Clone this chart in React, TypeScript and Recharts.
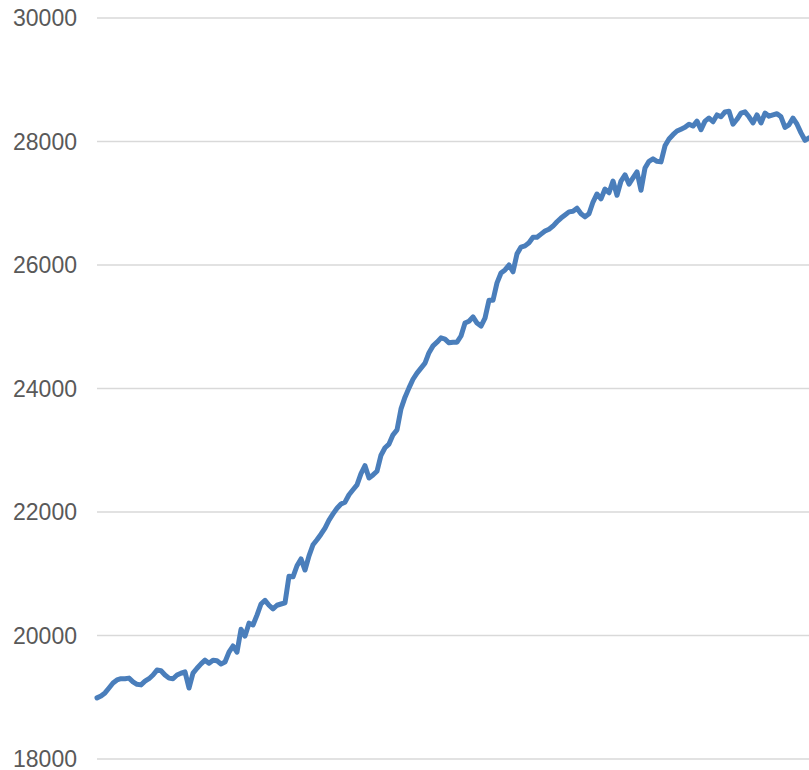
import React from "react";
import { LineChart, Line, XAxis, YAxis, CartesianGrid } from "recharts";

const yTicks = [18000, 20000, 22000, 24000, 26000, 28000, 30000];

const values: number[] = [
  18990, 19020, 19070, 19150, 19230, 19280, 19300, 19300, 19310, 19250,
  19210, 19200, 19260, 19300, 19360, 19440, 19430, 19360, 19310, 19300,
  19360, 19390, 19410, 19150, 19390, 19470, 19540, 19600, 19550, 19600,
  19590, 19540, 19570, 19730, 19830, 19730, 20100, 19990, 20200, 20170,
  20330, 20510, 20570, 20490, 20430, 20490, 20510, 20530, 20960, 20950,
  21130, 21240, 21060, 21290, 21470, 21550, 21640, 21740, 21870, 21970,
  22060, 22130, 22160, 22280, 22360, 22440, 22620, 22750, 22550, 22600,
  22660, 22920, 23040, 23100, 23250, 23330, 23670, 23860, 24010, 24150,
  24250, 24330, 24410, 24580, 24690, 24750, 24820, 24800, 24740, 24750,
  24750, 24850, 25060, 25090, 25160, 25060, 25010, 25140, 25430, 25430,
  25710, 25870, 25920, 26000, 25890, 26180, 26290, 26310, 26360, 26450,
  26450, 26500, 26550, 26580, 26630, 26700, 26760, 26810, 26860, 26870,
  26920, 26830, 26780, 26830, 27020, 27150, 27070, 27230, 27170, 27360,
  27130, 27360, 27460, 27310, 27410, 27510, 27210, 27570, 27680, 27720,
  27680, 27670, 27930, 28040, 28110, 28170, 28200, 28230, 28280, 28250,
  28330, 28190, 28330, 28380, 28320, 28430, 28400, 28480, 28490, 28280,
  28360, 28460, 28480, 28400, 28300, 28430, 28300, 28460, 28410, 28430,
  28450, 28400, 28230, 28270, 28380, 28280, 28140, 28020, 28060,
];

const periods: number[] = values.map((_, i) => i + 1);

const data = periods.map((p, i) => ({ period: p, value: values[i] }));

export default function App() {
  return (
    <div style={{ position: "absolute", left: 0, top: 0 }}>
      <LineChart
        width={809}
        height={770}
        data={data}
        margin={{ top: 18, right: 0, bottom: 11, left: 0 }}
      >
        <CartesianGrid
          vertical={false}
          stroke="#d9d9d9"
          strokeWidth={1.5}
        />
        <XAxis dataKey="period" hide />
        <YAxis
          domain={[18000, 30000]}
          ticks={yTicks}
          width={97}
          axisLine={false}
          tickLine={false}
          tickMargin={14}
          interval={0}
          tick={{
            fill: "#595959",
            fontSize: 23,
            fontFamily: "Liberation Sans, Arial, sans-serif",
          }}
        />
        <Line
          type="linear"
          dataKey="value"
          stroke="#4a7ebb"
          strokeWidth={5}
          dot={false}
          strokeLinejoin="round"
          strokeLinecap="round"
          isAnimationActive={false}
        />
      </LineChart>
    </div>
  );
}
